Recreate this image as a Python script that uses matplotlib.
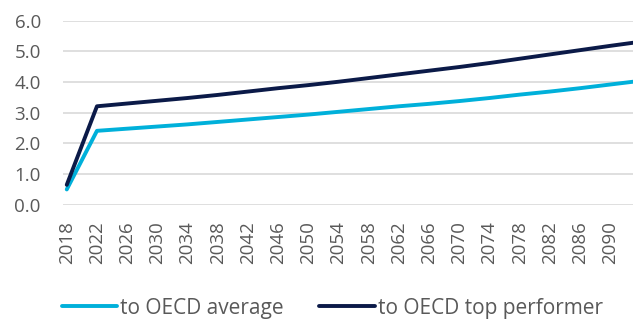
import matplotlib.pyplot as plt

years = [2018, 2022, 2026, 2030, 2034, 2038, 2042, 2046, 2050, 2054,
         2058, 2062, 2066, 2070, 2074, 2078, 2082, 2086, 2090, 2093]
to_avg = [0.50, 2.41, 2.48, 2.55, 2.62, 2.70, 2.78, 2.86, 2.94, 3.03,
          3.12, 3.21, 3.29, 3.38, 3.48, 3.59, 3.69, 3.80, 3.92, 4.01]
to_top = [0.65, 3.21, 3.30, 3.39, 3.48, 3.58, 3.69, 3.80, 3.90, 4.01,
          4.13, 4.25, 4.37, 4.49, 4.62, 4.76, 4.90, 5.04, 5.18, 5.28]
tick_years = list(range(2018, 2091, 4))

plt.rcParams['font.family'] = ['Open Sans', 'DejaVu Sans']
txt = '#595959'

fig = plt.figure(figsize=(6.33, 3.23), dpi=100)
ax = fig.add_axes([0.0995, 0.366, 0.9005, 0.570])

ax.plot(years, to_avg, color='#00B0DA', lw=2.8, label='to OECD average', solid_capstyle='round')
ax.plot(years, to_top, color='#0B1A48', lw=2.8, label='to OECD top performer', solid_capstyle='round')

ax.set_ylim(0, 6)
ax.set_yticks([0, 1, 2, 3, 4, 5, 6])
ax.set_yticklabels(['%.1f' % v for v in range(7)])
ax.set_xlim(2017.5, 2093)
ax.set_xticks(tick_years)
ax.set_xticklabels([str(y) for y in tick_years], rotation=90)
ax.tick_params(axis='both', length=0, labelsize=13.5, colors=txt)
ax.tick_params(axis='x', pad=12)
ax.tick_params(axis='y', pad=16)
ax.grid(axis='y', color='#D9D9D9', lw=1.2)
ax.set_axisbelow(True)
for s in ax.spines.values():
    s.set_visible(False)

leg = fig.legend(loc='center', bbox_to_anchor=(0.525, 0.046), ncol=2, frameon=False,
                 fontsize=15, handlelength=2.65, handletextpad=0.15, columnspacing=1.7)
for t in leg.get_texts():
    t.set_color(txt)

fig.savefig('out.png')
